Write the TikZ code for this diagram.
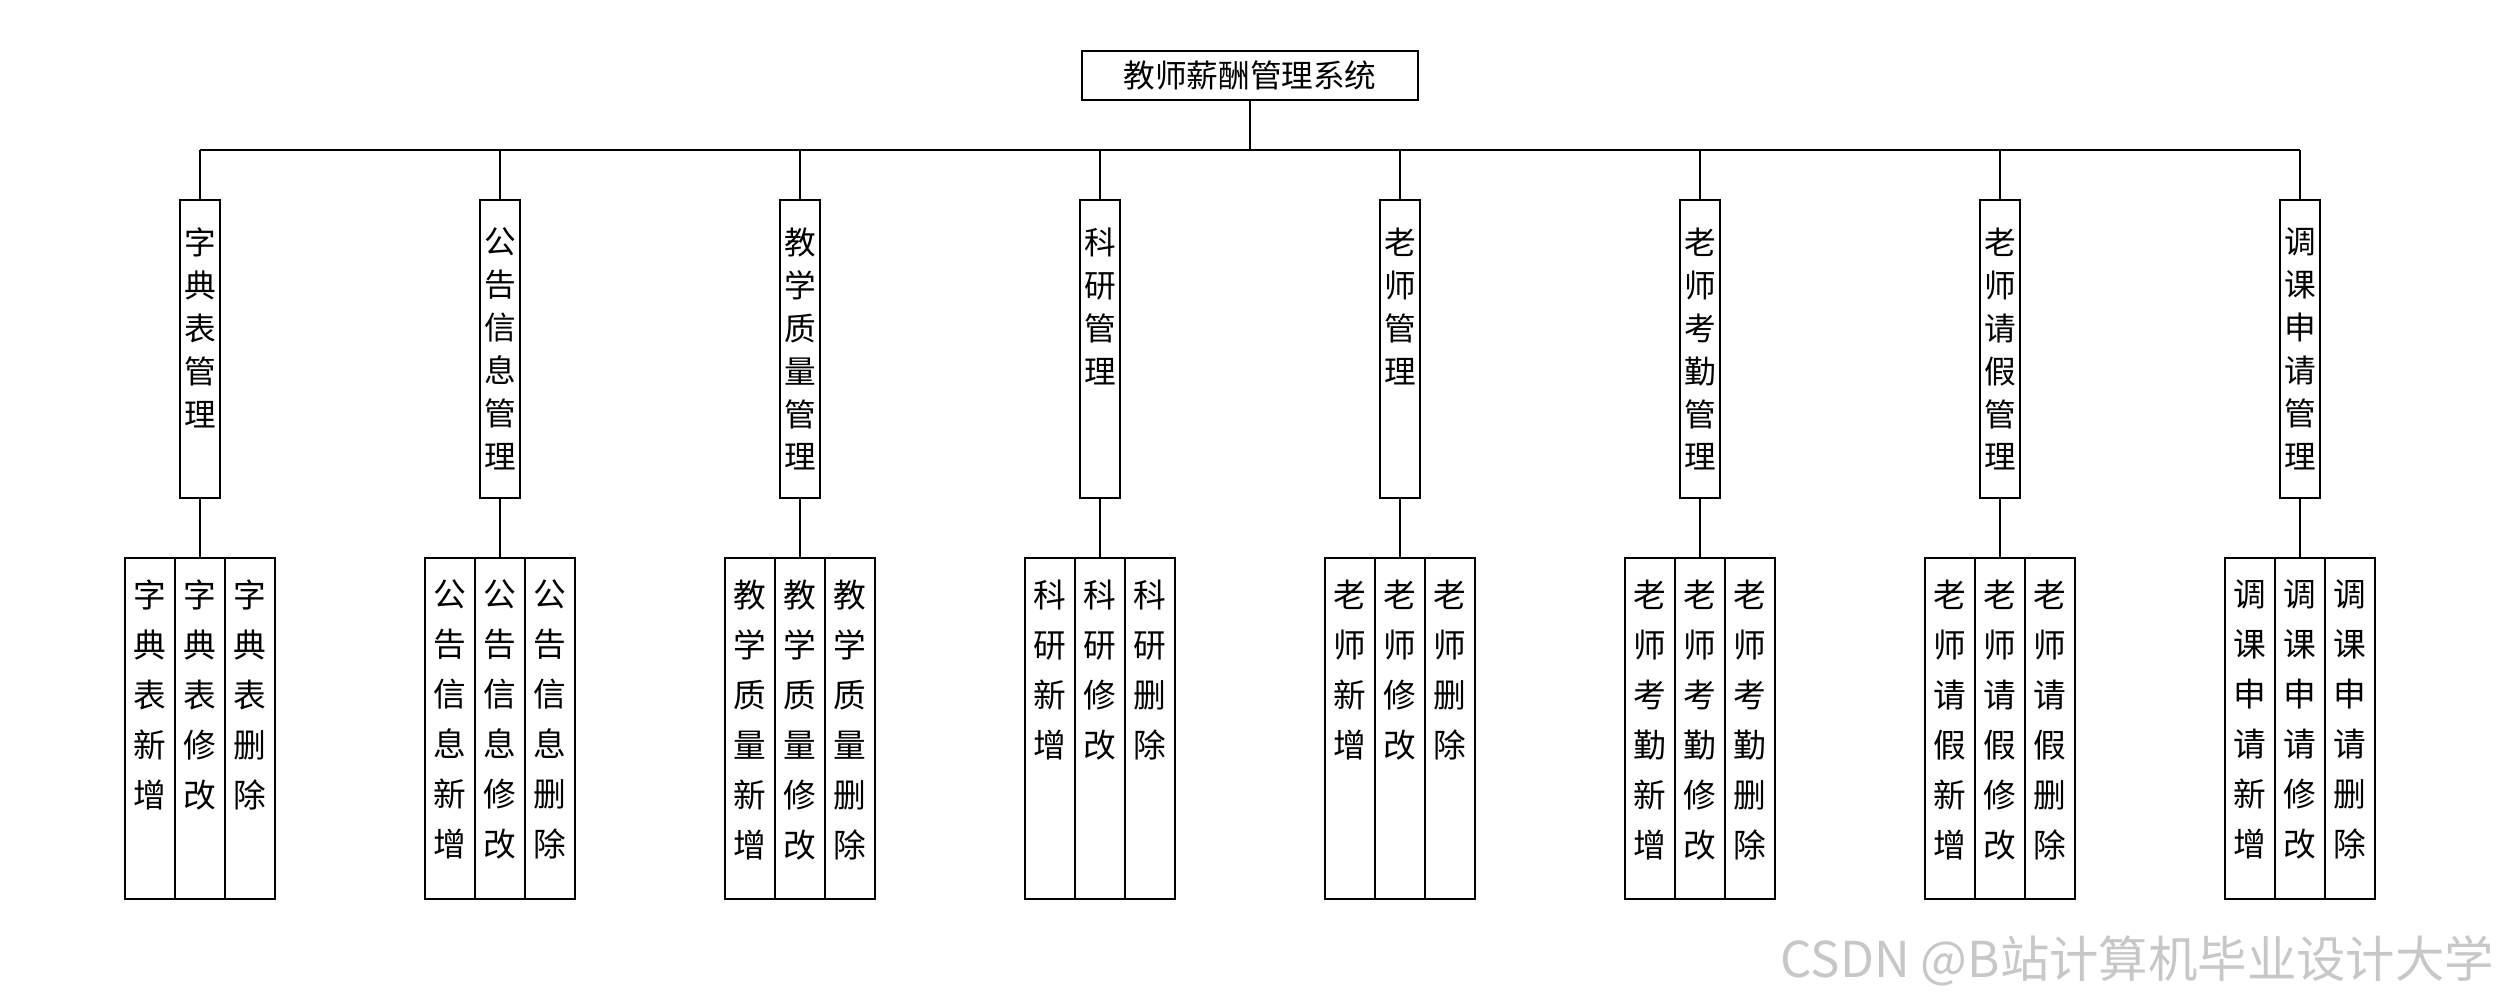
\documentclass[tikz,border=0pt]{standalone}
\usepackage{fontspec}
\newfontfamily\cjk{Noto Sans CJK SC}
\begin{document}
\begin{tikzpicture}[x=0.01cm,y=-0.01cm,line width=0.5pt,
  rootbox/.style={draw,minimum width=3.36cm,minimum height=0.49cm,inner sep=0pt,
    font=\cjk\fontsize{9pt}{11pt}\selectfont},
  midbox/.style={draw,minimum width=0.4cm,minimum height=2.98cm,inner sep=0pt},
  leafbox/.style={draw,minimum width=0.5cm,minimum height=3.41cm,inner sep=0pt},
  midtext/.style={anchor=north,inner sep=0pt,align=center,
    font=\cjk\fontsize{9pt}{12.2pt}\selectfont},
  leaftext/.style={anchor=north,inner sep=0pt,align=center,
    font=\cjk\fontsize{9.3pt}{14.2pt}\selectfont},
  wmark/.style={anchor=east,inner sep=0pt,text=black!22,
    font=\cjk\fontsize{14.05pt}{16pt}\selectfont}]
\useasboundingbox (0,0) rectangle (2500,1000);
\node[rootbox] (root) at (1250,75.5) {教师薪酬管理系统};
\coordinate (busL) at (200,150);
\coordinate (busR) at (2300,150);
\draw (root.south) -- (root.south |- busL);
\draw (busL) -- (busR);
\foreach \i/\c/\p in {1/200/{字\\典\\表},2/500/{公\\告\\信\\息},3/800/{教\\学\\质\\量},
  4/1100/{科\\研},5/1400/{老\\师},6/1700/{老\\师\\考\\勤},7/2000/{老\\师\\请\\假},
  8/2300/{调\\课\\申\\请}}{
  \node[midbox] (m\i) at (\c,349) {};
  \node[midtext] (mt\i) at (\c,227) {\p\\管\\理};
  \draw (m\i.north) -- (m\i.north |- busL);
  \node[leafbox] (la\i) at (\c-50,728.5) {};
  \node[leafbox] (lb\i) at (\c,728.5) {};
  \node[leafbox] (lc\i) at (\c+50,728.5) {};
  \node[leaftext] (lta\i) at (\c-50,579) {\p\\新\\增};
  \node[leaftext] (ltb\i) at (\c,579) {\p\\修\\改};
  \node[leaftext] (ltc\i) at (\c+50,579) {\p\\删\\除};
  \draw (m\i.south) -- (lb\i.north);
}
\node[wmark] (wm) at (2495,961) {CSDN @B站计算机毕业设计大学};
\end{tikzpicture}
\end{document}
